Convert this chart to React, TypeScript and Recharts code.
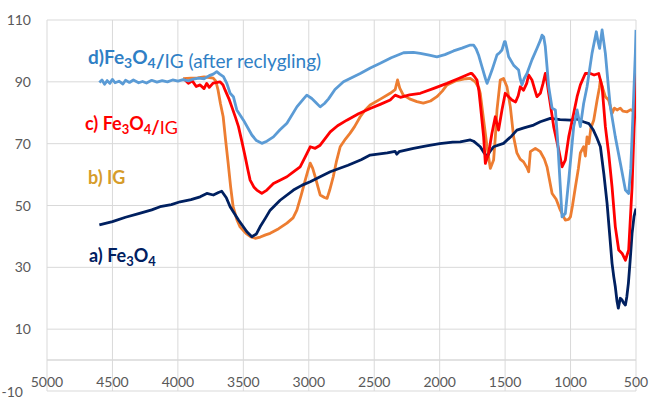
import React from 'react';
import { LineChart, Line, XAxis, YAxis, CartesianGrid, ReferenceLine } from 'recharts';

// wavenumber (cm-1), transmittance (%)
const fe3o4: [number, number][] = [
  [4600, 43.7], [4500, 44.8], [4400, 46.2], [4300, 47.4], [4200, 48.6], [4136, 49.6],
  [4050, 50.3], [3983, 51.2], [3900, 51.9], [3830, 52.8], [3779, 53.9], [3729, 53.4],
  [3690, 54.2], [3665, 54.6], [3630, 52.5], [3601, 49.6], [3537, 45.3], [3473, 41.5],
  [3435, 39.9], [3400, 40.8], [3372, 43.1], [3330, 46], [3295, 48.5], [3219, 51.7],
  [3117, 55], [3050, 56.6], [2989, 57.7], [2913, 59.3], [2836, 60.9], [2700, 63],
  [2600, 64.8], [2531, 66.3], [2400, 67], [2340, 67.5], [2327, 66.6], [2310, 67.4],
  [2200, 68.5], [2100, 69.3], [2000, 70], [1900, 70.5], [1843, 70.6], [1766, 71.2],
  [1741, 70.8], [1690, 69], [1660, 67], [1638, 65.8], [1615, 67.5], [1588, 69],
  [1512, 70.1], [1450, 72.5], [1410, 74.4], [1350, 75.2], [1282, 76], [1231, 77.1],
  [1155, 78.2], [1080, 77.8], [1001, 77.6], [950, 78], [902, 77.1], [860, 76.5],
  [826, 74.4], [800, 72], [772, 69], [745, 60], [721, 50.7], [700, 40], [683, 31.3],
  [670, 27], [658, 23.7], [645, 19], [635, 16.8], [620, 20], [606, 19.4], [595, 18.5],
  [581, 17.8], [570, 20.5], [558, 24.9], [545, 32], [530, 41], [515, 46.5], [500, 49],
];

const ig: [number, number][] = [
  [3960, 91], [3900, 91.2], [3850, 91.3], [3800, 91.6], [3760, 91.4], [3730, 91.2],
  [3710, 90.2], [3693, 87.3], [3675, 83], [3654, 78.7], [3635, 71], [3616, 63.7],
  [3597, 56], [3578, 49.6], [3550, 45.5], [3525, 43.1], [3480, 41], [3440, 39.8],
  [3410, 39.4], [3370, 39.8], [3330, 40.5], [3295, 41], [3230, 42.5], [3167, 44.3],
  [3120, 46], [3091, 48.5], [3060, 53], [3027, 58.2], [3005, 61.5], [2989, 63.7],
  [2970, 62], [2951, 59.3], [2930, 56], [2913, 53.4], [2880, 52.6], [2860, 52.3],
  [2840, 55], [2813, 59.3], [2790, 64], [2760, 69], [2720, 71.5], [2684, 73.4],
  [2650, 75.5], [2607, 78.7], [2570, 80.8], [2531, 82.5], [2450, 84.5], [2378, 86.3],
  [2340, 87.5], [2322, 90.6], [2305, 88], [2278, 85.7], [2230, 84.5], [2174, 83.6],
  [2125, 83.1], [2070, 83.8], [2021, 85.2], [1980, 87], [1944, 89], [1880, 90.3],
  [1800, 91], [1766, 91.1], [1728, 90], [1700, 88], [1690, 86.3], [1664, 77.6],
  [1638, 69], [1613, 62], [1588, 64.7], [1575, 72], [1562, 80.9], [1537, 90.6],
  [1512, 91.1], [1486, 88.4], [1460, 81.9], [1435, 72.2], [1410, 67], [1385, 65],
  [1359, 64.1], [1330, 62], [1320, 60.9], [1307, 67.4], [1269, 68.5], [1231, 67.4],
  [1200, 65], [1180, 62.5], [1141, 53.9], [1110, 52], [1078, 48.5], [1040, 45.3],
  [1015, 45.5], [1001, 46.3], [985, 50], [963, 56], [940, 62], [925, 67], [900, 69],
  [887, 66], [874, 72.2], [860, 70], [845, 75], [823, 77.6], [797, 84.1], [780, 88],
  [772, 90.6], [755, 88], [734, 85.2], [709, 84.1], [695, 82], [683, 79.8], [665, 81.5],
  [645, 80.9], [620, 81.5], [600, 80.5], [568, 80.3], [540, 81], [520, 80.5], [505, 80.9],
  [500, 82],
];

const fe3o4Ig: [number, number][] = [
  [3950, 90.8], [3920, 89.5], [3890, 90.3], [3860, 88.5], [3830, 89], [3800, 87.8],
  [3780, 89.5], [3760, 88.2], [3731, 89.6], [3700, 89.8], [3677, 90], [3655, 89],
  [3639, 87.3], [3610, 84.5], [3588, 81.9], [3560, 78.5], [3537, 75.5], [3510, 70.5],
  [3486, 65.8], [3465, 61.5], [3448, 58.2], [3420, 56], [3397, 55], [3359, 53.9],
  [3320, 55], [3270, 57.1], [3220, 58.2], [3167, 59.3], [3120, 60.8], [3066, 62.5],
  [3030, 65.5], [2989, 69], [2951, 68.5], [2913, 69.5], [2836, 73.8], [2780, 75.8],
  [2709, 77.6], [2620, 79.7], [2531, 81.4], [2450, 82.8], [2378, 84.1], [2340, 85.7],
  [2300, 85], [2230, 85.8], [2148, 86.3], [2050, 87.8], [1944, 89.5], [1860, 91],
  [1766, 92.7], [1754, 92.7], [1730, 91.5], [1715, 90.6], [1700, 87], [1690, 83],
  [1664, 72.2], [1651, 63.6], [1626, 66.9], [1601, 73.3], [1575, 78.7], [1550, 74.4],
  [1524, 80.9], [1499, 86.3], [1473, 85.2], [1448, 84.1], [1420, 83.5], [1400, 85.5],
  [1384, 88.4], [1359, 87.3], [1335, 89.5], [1320, 92.2], [1295, 90.6], [1270, 87],
  [1257, 85.2], [1231, 86.3], [1210, 89.5], [1193, 92.7], [1180, 90], [1167, 86.3],
  [1141, 79], [1129, 75.5], [1090, 67.9], [1065, 62.5], [1040, 64.7], [1014, 72.2],
  [976, 79.8], [950, 85.2], [925, 89], [887, 92.7], [849, 92.7], [820, 92.2],
  [785, 92.7], [759, 88.4], [734, 75.5], [709, 66.9], [683, 56], [658, 43.1],
  [632, 35.6], [606, 34.5], [581, 32.3], [556, 35.6], [530, 56], [515, 75], [505, 83],
  [500, 93],
];

const recycled: [number, number][] = [
  [4600, 89.8], [4580, 90.6], [4560, 89.2], [4540, 90.4], [4520, 89.5], [4500, 90.8],
  [4480, 89.7], [4450, 90.2], [4420, 89.3], [4400, 90.5], [4370, 89.8], [4340, 90.6],
  [4300, 89.7], [4270, 90.1], [4240, 89.6], [4200, 90.5], [4160, 89.9], [4120, 90.4],
  [4080, 90], [4040, 90.6], [4000, 90.2], [3960, 90.7], [3920, 90.3], [3880, 90.9],
  [3840, 91.2], [3800, 91], [3760, 92], [3730, 92.5], [3703, 93.3], [3680, 92.5],
  [3652, 91.7], [3626, 89.5], [3601, 86.3], [3576, 85.2], [3550, 80.9], [3499, 77.6],
  [3435, 72.8], [3400, 71], [3359, 70.1], [3320, 70.8], [3270, 72.2], [3220, 74.5],
  [3167, 76.6], [3091, 81.9], [3040, 84.5], [3015, 85.7], [2977, 84.6], [2950, 83.5],
  [2913, 81.9], [2880, 83], [2849, 84.5], [2800, 87.5], [2735, 90], [2607, 92.7],
  [2530, 94.5], [2454, 96], [2370, 97.8], [2276, 99.4], [2200, 99.5], [2148, 99.2],
  [2080, 98.6], [2021, 98.1], [1960, 98.8], [1894, 100], [1830, 100.9], [1766, 101.9],
  [1741, 101.9], [1720, 100.5], [1703, 98.7], [1677, 94.9], [1650, 91], [1638, 89.5],
  [1620, 91.5], [1600, 93.8], [1562, 98.7], [1540, 99.5], [1524, 100.3], [1505, 103],
  [1499, 103], [1485, 100.5], [1473, 98.1], [1435, 95.4], [1397, 93.8], [1385, 91],
  [1371, 89], [1355, 91], [1333, 92.7], [1295, 97.1], [1257, 100.8], [1230, 103.5],
  [1218, 105.1], [1205, 104.5], [1193, 101.4], [1180, 95], [1167, 88.4], [1141, 81.5],
  [1116, 80.9], [1100, 72], [1090, 64.7], [1065, 46.3], [1040, 47.4], [1014, 58.2],
  [976, 75.5], [950, 80.9], [925, 75.5], [900, 83], [874, 88.4], [836, 99.2],
  [803, 106.2], [790, 103], [778, 100.8], [759, 106.8], [734, 99.2], [710, 88],
  [696, 81.9], [658, 72.2], [619, 63.6], [581, 55], [556, 53.9], [540, 62], [530, 72.2],
  [505, 99.2], [500, 106.8],
];

const xTicks = [5000, 4500, 4000, 3500, 3000, 2500, 2000, 1500, 1000, 500];
const yTicks = [-10, 10, 30, 50, 70, 90, 110];

const toRows = (pts: [number, number][]) => pts.map(([w, v]) => ({ w, v }));

const FONT = 'Lato, sans-serif';

const XTick = (props: any) => {
  const { x, y, payload } = props;
  return (
    <text x={x} y={y - 4} textAnchor="middle" fill="#595959" fontSize={14} fontFamily={FONT}>
      {payload.value}
    </text>
  );
};

const YTick = (props: any) => {
  const { x, y, payload } = props;
  const low = payload.value === -10;
  return (
    <text
      x={low ? x - 8 : x}
      y={low ? y + 1 : y}
      dy="0.36em"
      textAnchor="end"
      fill="#595959"
      fontSize={14}
      fontFamily={FONT}
    >
      {payload.value}
    </text>
  );
};

const Formula = ({ sub = 13 }: { sub?: number }) => (
  <>
    <tspan fontWeight={700}>Fe</tspan>
    <tspan fontWeight={700} fontSize={sub} dy={4}>3</tspan>
    <tspan fontWeight={700} dy={-4}>O</tspan>
    <tspan fontWeight={700} fontSize={sub} dy={4}>4</tspan>
    <tspan dy={-4}></tspan>
  </>
);

const lineProps = {
  dataKey: 'v',
  strokeWidth: 2.8,
  dot: false,
  strokeLinejoin: 'round' as const,
  isAnimationActive: false,
};

export default function App() {
  return (
    <div style={{ position: 'absolute', left: 0, top: 0, width: 649, height: 399, background: '#fff' }}>
      <LineChart width={649} height={399} margin={{ top: 20, right: 13, left: 0, bottom: 0 }}>
        <CartesianGrid stroke="#d9d9d9" strokeWidth={1} />
        <XAxis
          type="number"
          dataKey="w"
          domain={[500, 5000]}
          reversed
          ticks={xTicks}
          interval={0}
          allowDataOverflow
          axisLine={false}
          tickLine={false}
          tickSize={0}
          tickMargin={0}
          height={8}
          tick={<XTick />}
        />
        <YAxis
          type="number"
          domain={[-10, 110]}
          ticks={yTicks}
          interval={0}
          axisLine={false}
          tickLine={false}
          tickSize={0}
          tickMargin={16}
          width={47}
          tick={<YTick />}
        />
        <ReferenceLine y={0} stroke="#d9d9d9" strokeWidth={1.5} />
        <Line data={toRows(ig)} stroke="#ed7d31" {...lineProps} />
        <Line data={toRows(fe3o4)} stroke="#002060" {...lineProps} />
        <Line data={toRows(fe3o4Ig)} stroke="#ff0000" {...lineProps} />
        <Line data={toRows(recycled)} stroke="#5b9bd5" {...lineProps} />
      </LineChart>
      <svg
        width={649}
        height={399}
        style={{ position: 'absolute', left: 0, top: 0, pointerEvents: 'none' }}
        fontFamily={FONT}
        fontSize={18}
      >
        <text x={88} y={64} fill="#2f80c5" fontSize={19}>
          <tspan fontWeight={700}>d)</tspan>
          <Formula sub={14} />
          <tspan fontWeight={700}>/</tspan>
          <tspan fontWeight={400}>IG (after reclygling)</tspan>
        </text>
        <text x={85} y={130} fill="#ff0000">
          <tspan fontWeight={700}>c) </tspan>
          <Formula />
          <tspan fontWeight={700}>/</tspan>
          <tspan fontWeight={400}>IG</tspan>
        </text>
        <text x={88} y={184} fill="#d69c2a" fontWeight={700}>
          b) IG
        </text>
        <text x={89} y={262} fill="#002060">
          <tspan fontWeight={700}>a) </tspan>
          <Formula />
        </text>
      </svg>
    </div>
  );
}
